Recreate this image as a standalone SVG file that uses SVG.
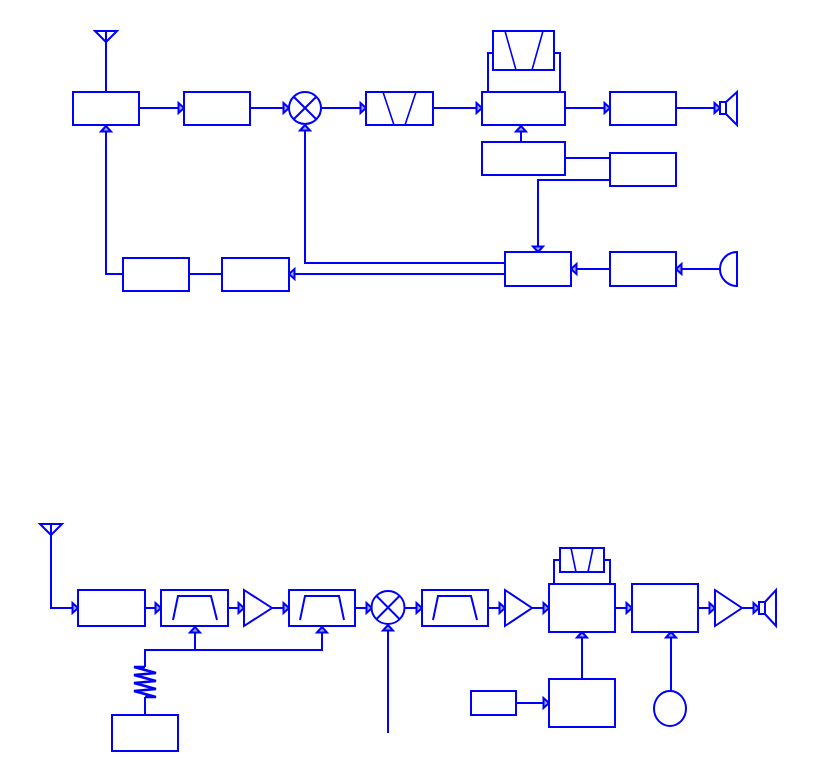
<svg xmlns="http://www.w3.org/2000/svg" width="832" height="771" viewBox="0 0 832 771">
<style>
.s{fill:none;stroke:#0000ff;stroke-width:2;stroke-linejoin:miter}
.b{fill:#fff;stroke:#0000ff;stroke-width:2}
.t{fill:none;stroke:#0000ff;stroke-width:1.6}
.r{fill:none;stroke:#0000ff;stroke-width:2.400}
.c{fill:none;stroke:#0000ff;stroke-width:2;marker-end:url(#a)}
</style>
<defs>
<marker id="a" markerUnits="userSpaceOnUse" markerWidth="14" markerHeight="18" viewBox="0 0 14 18" refX="12" refY="9" orient="auto">
<path d="M6.500 4L12 9L6.500 14Z" fill="#a9a9c8" stroke="#0000ff" stroke-width="2"/>
</marker>
</defs>
<g id="connectors">
<path class="s" d="M106 42V92"/>
<path class="c" d="M139 108H184"/>
<path class="c" d="M250 108H289"/>
<path class="c" d="M322 108H366"/>
<path class="c" d="M433 108H482"/>
<path class="c" d="M565 108H610"/>
<path class="c" d="M676 108H720"/>
<path class="s" d="M488 92V53H493M560 92V53H554"/>
<path class="c" d="M521 142V126"/>
<path class="s" d="M565 158H610"/>
<path class="c" d="M610 180H538V252"/>
<path class="c" d="M505 263H305V125"/>
<path class="c" d="M505 274H289"/>
<path class="s" d="M222 274H189"/>
<path class="c" d="M123 274H106V126"/>
<path class="c" d="M610 269H571"/>
<path class="c" d="M720 269H676"/>
<path class="c" d="M51 535V608H78"/>
<path class="c" d="M145 608H161"/>
<path class="c" d="M228 608H244"/>
<path class="c" d="M272 608H289"/>
<path class="c" d="M355 608H372"/>
<path class="c" d="M405 608H422"/>
<path class="c" d="M488 608H505"/>
<path class="c" d="M532 608H549"/>
<path class="c" d="M615 608H632"/>
<path class="c" d="M698 608H715"/>
<path class="c" d="M742 608H759"/>
<path class="s" d="M554 584V560H560M610 584V560H604"/>
<path class="c" d="M145 667V650H322V627"/>
<path class="c" d="M195 650V627"/>
<path class="s" d="M145 715V697"/>
<path class="c" d="M388 733V625"/>
<path class="c" d="M516 703H549"/>
<path class="c" d="M582 679V632"/>
<path class="c" d="M671 691V632"/>
</g>
<g id="antenna1"><path class="s" d="M95 31H117L106 42ZM106 31V42"/></g>
<g id="box1"><rect class="b" x="73" y="92" width="66" height="33"/></g>
<g id="box2"><rect class="b" x="184" y="92" width="66" height="33"/></g>
<g id="mixer1"><circle class="b" cx="305" cy="108" r="16"/><path class="s" d="M293.700 96.700L316.300 119.300M316.300 96.700L293.700 119.300"/></g>
<g id="filter1"><rect class="b" x="366" y="92" width="67" height="33"/><path class="t" d="M383 92L394 125M416 92L405 125"/></g>
<g id="box3"><rect class="b" x="482" y="92" width="83" height="33"/></g>
<g id="filter2"><rect class="b" x="493" y="31" width="61" height="39"/><path class="t" d="M505 31L516 70M543 31L532 70"/></g>
<g id="box4"><rect class="b" x="610" y="92" width="66" height="33"/></g>
<g id="speaker1"><path class="b" d="M720 102H726V114H720Z"/><path class="s" d="M726 102L737 92V125L726 114"/></g>
<g id="box5"><rect class="b" x="482" y="142" width="83" height="33"/></g>
<g id="box6"><rect class="b" x="610" y="153" width="66" height="33"/></g>
<g id="box7"><rect class="b" x="505" y="252" width="66" height="34"/></g>
<g id="box8"><rect class="b" x="610" y="252" width="66" height="34"/></g>
<g id="mic"><path class="b" d="M737 252A17 17 0 0 0 737 286Z"/></g>
<g id="box9"><rect class="b" x="222" y="258" width="67" height="33"/></g>
<g id="box10"><rect class="b" x="123" y="258" width="66" height="33"/></g>
<g id="antenna2"><path class="s" d="M40 524H62L51 535ZM51 524V535"/></g>
<g id="box11"><rect class="b" x="78" y="590" width="67" height="36"/></g>
<g id="filter3"><rect class="b" x="161" y="590" width="67" height="36"/><path class="s" d="M173 620L178 596H211L217 620"/></g>
<g id="amp1"><path class="b" d="M244 590L272 608L244 626Z"/></g>
<g id="filter4"><rect class="b" x="289" y="590" width="66" height="36"/><path class="s" d="M300 620L305 596H339L344 620"/></g>
<g id="mixer2"><circle class="b" cx="388" cy="607.500" r="16.500"/><path class="s" d="M376.300 595.800L399.700 619.200M399.700 595.800L376.300 619.200"/></g>
<g id="filter5"><rect class="b" x="422" y="590" width="66" height="36"/><path class="s" d="M433 620L438 596H471L477 620"/></g>
<g id="amp2"><path class="b" d="M505 590L532 608L505 626Z"/></g>
<g id="box12"><rect class="b" x="549" y="584" width="66" height="48"/></g>
<g id="filter6"><rect class="b" x="560" y="548" width="44" height="24"/><path class="t" d="M571 548L576 572M593 548L588 572"/></g>
<g id="box13"><rect class="b" x="632" y="584" width="66" height="48"/></g>
<g id="amp3"><path class="b" d="M715 590L742 608L715 626Z"/></g>
<g id="speaker2"><path class="b" d="M759 602H765V614H759Z"/><path class="s" d="M765 602L776 590V626L765 614"/></g>
<g id="resistor"><path class="r" d="M145 667H134L156 673L134 675L156 681L134 683L156 689L134 691L156 697H145"/></g>
<g id="box14"><rect class="b" x="112" y="715" width="66" height="36"/></g>
<g id="box15"><rect class="b" x="471" y="691" width="45" height="24"/></g>
<g id="box16"><rect class="b" x="549" y="679" width="66" height="48"/></g>
<g id="source"><ellipse class="b" cx="670" cy="708.500" rx="16" ry="17.500"/></g>
</svg>
